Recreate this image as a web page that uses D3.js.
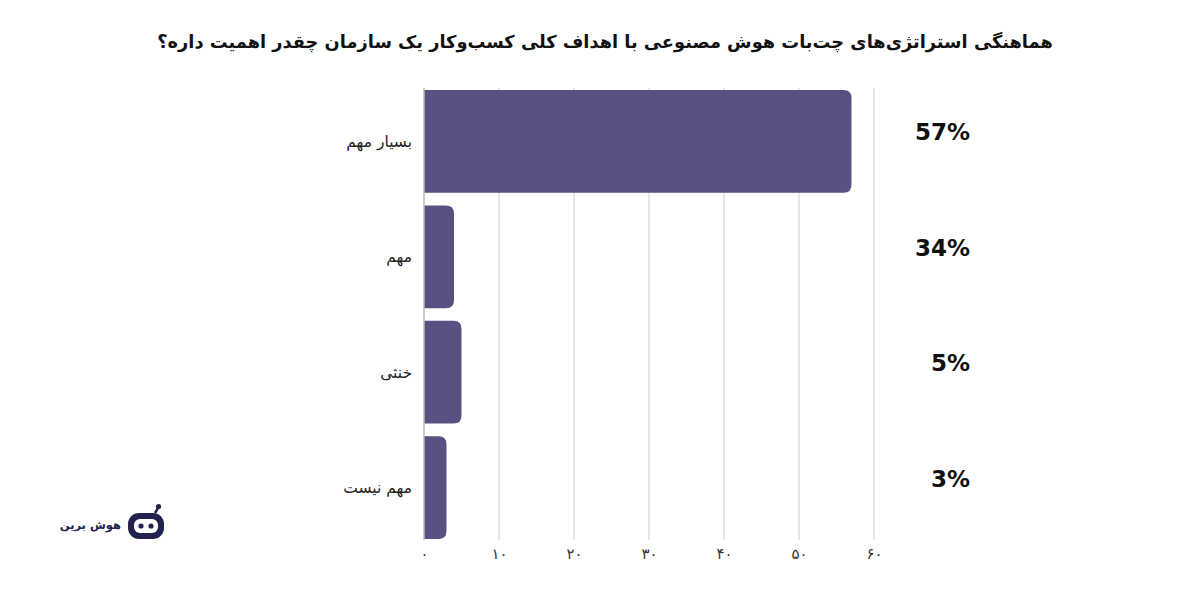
<!DOCTYPE html>
<html><head><meta charset="utf-8">
<script src="https://cdn.jsdelivr.net/npm/d3@7"></script>
<style>body{margin:0;background:#fff}svg{display:block}</style>
</head><body><svg id="c" width="1200" height="600"></svg>
<script>
const title = "هماهنگی استراتژی‌های چت‌بات هوش مصنوعی با اهداف کلی کسب‌وکار یک سازمان چقدر اهمیت داره؟";
const categories = ["بسیار مهم", "مهم", "خنثی", "مهم نیست"];
const barValues = [57, 4, 5, 3];
const percentLabels = ["57%", "34%", "5%", "3%"];
const tickValues = [0, 10, 20, 30, 40, 50, 60];
const tickLabels = ["۰", "۱۰", "۲۰", "۳۰", "۴۰", "۵۰", "۶۰"];
const brand = "هوش برین";

const svg = d3.select("#c");
const x = d3.scaleLinear().domain([0, 60]).range([424, 874]);
const y = d3.scaleBand().domain(categories).range([90, 539]).paddingInner(0.11).paddingOuter(0);

// title
svg.append("text").attr("x", 605).attr("y", 48).attr("text-anchor", "middle")
  .attr("direction", "rtl")
  .style("font-family", "'DejaVu Sans', sans-serif").style("font-weight", "bold")
  .style("font-size", "17.8px").attr("fill", "#111").text(title);

// grid
svg.append("g").selectAll("line").data(tickValues.slice(1)).join("line")
  .attr("x1", d => x(d)).attr("x2", d => x(d)).attr("y1", 88).attr("y2", 540)
  .attr("stroke", "#dedede").attr("stroke-width", 1.5);

// bars with right rounded corners
const r = 8;
svg.append("g").selectAll("path").data(barValues).join("path")
  .attr("d", (d, i) => {
    const x0 = x(0), x1 = x(d), y0 = y(categories[i]), h = y.bandwidth();
    const rr = Math.min(r, (x1 - x0));
    return `M${x0},${y0}H${x1 - rr}Q${x1},${y0} ${x1},${y0 + rr}V${y0 + h - rr}Q${x1},${y0 + h} ${x1 - rr},${y0 + h}H${x0}Z`;
  })
  .attr("fill", "#5a5081");

// axis line
svg.append("line").attr("x1", x(0)).attr("x2", x(0)).attr("y1", 88).attr("y2", 540)
  .attr("stroke", "#bdbdbd").attr("stroke-width", 1.5);

// x tick labels
const xAxis = d3.axisBottom(x).tickValues(tickValues).tickSize(0).tickFormat((d, i) => tickLabels[i]);
const gx = svg.append("g").attr("transform", "translate(0,545)").call(xAxis);
gx.select(".domain").remove();
gx.selectAll("text").style("font-family", "'DejaVu Sans', sans-serif").style("font-size", "15px").attr("fill", "#333");

// category labels
svg.append("g").selectAll("text").data(categories).join("text")
  .attr("x", 412).attr("y", d => y(d) + y.bandwidth() / 2).attr("dy", "0.35em")
  .attr("text-anchor", "start").attr("direction", "rtl")
  .style("font-family", "'DejaVu Sans', sans-serif").style("font-size", "15.5px").attr("fill", "#222")
  .text(d => d);

// percent labels
svg.append("g").selectAll("text").data(percentLabels).join("text")
  .attr("x", 970).attr("y", (d, i) => y(categories[i]) + y.bandwidth() / 2 - 9).attr("dy", "0.35em")
  .attr("text-anchor", "end")
  .style("font-family", "'DejaVu Sans', sans-serif").style("font-weight", "bold")
  .style("font-size", "23px").attr("fill", "#111").text(d => d);

// logo
const lg = svg.append("g").attr("transform", "translate(146,525)");
lg.append("line").attr("x1", 9).attr("y1", -12).attr("x2", 12).attr("y2", -17).attr("stroke", "#23224f").attr("stroke-width", 2.5);
lg.append("circle").attr("cx", 12.5).attr("cy", -18.5).attr("r", 2.6).attr("fill", "#23224f");
lg.append("rect").attr("x", -18).attr("y", -12).attr("width", 36).attr("height", 26).attr("rx", 11).attr("fill", "#23224f");
lg.append("rect").attr("x", -12).attr("y", -6).attr("width", 24).attr("height", 14).attr("rx", 6).attr("fill", "#fff");
lg.append("circle").attr("cx", -5).attr("cy", 1).attr("r", 2.6).attr("fill", "#23224f");
lg.append("circle").attr("cx", 5).attr("cy", 1).attr("r", 2.6).attr("fill", "#23224f");
svg.append("text").attr("x", 121).attr("y", 529).attr("text-anchor", "start").attr("direction", "rtl")
  .style("font-family", "'DejaVu Sans', sans-serif").style("font-weight", "bold").style("font-size", "11.5px")
  .attr("fill", "#23224f").text(brand);
</script></body></html>
